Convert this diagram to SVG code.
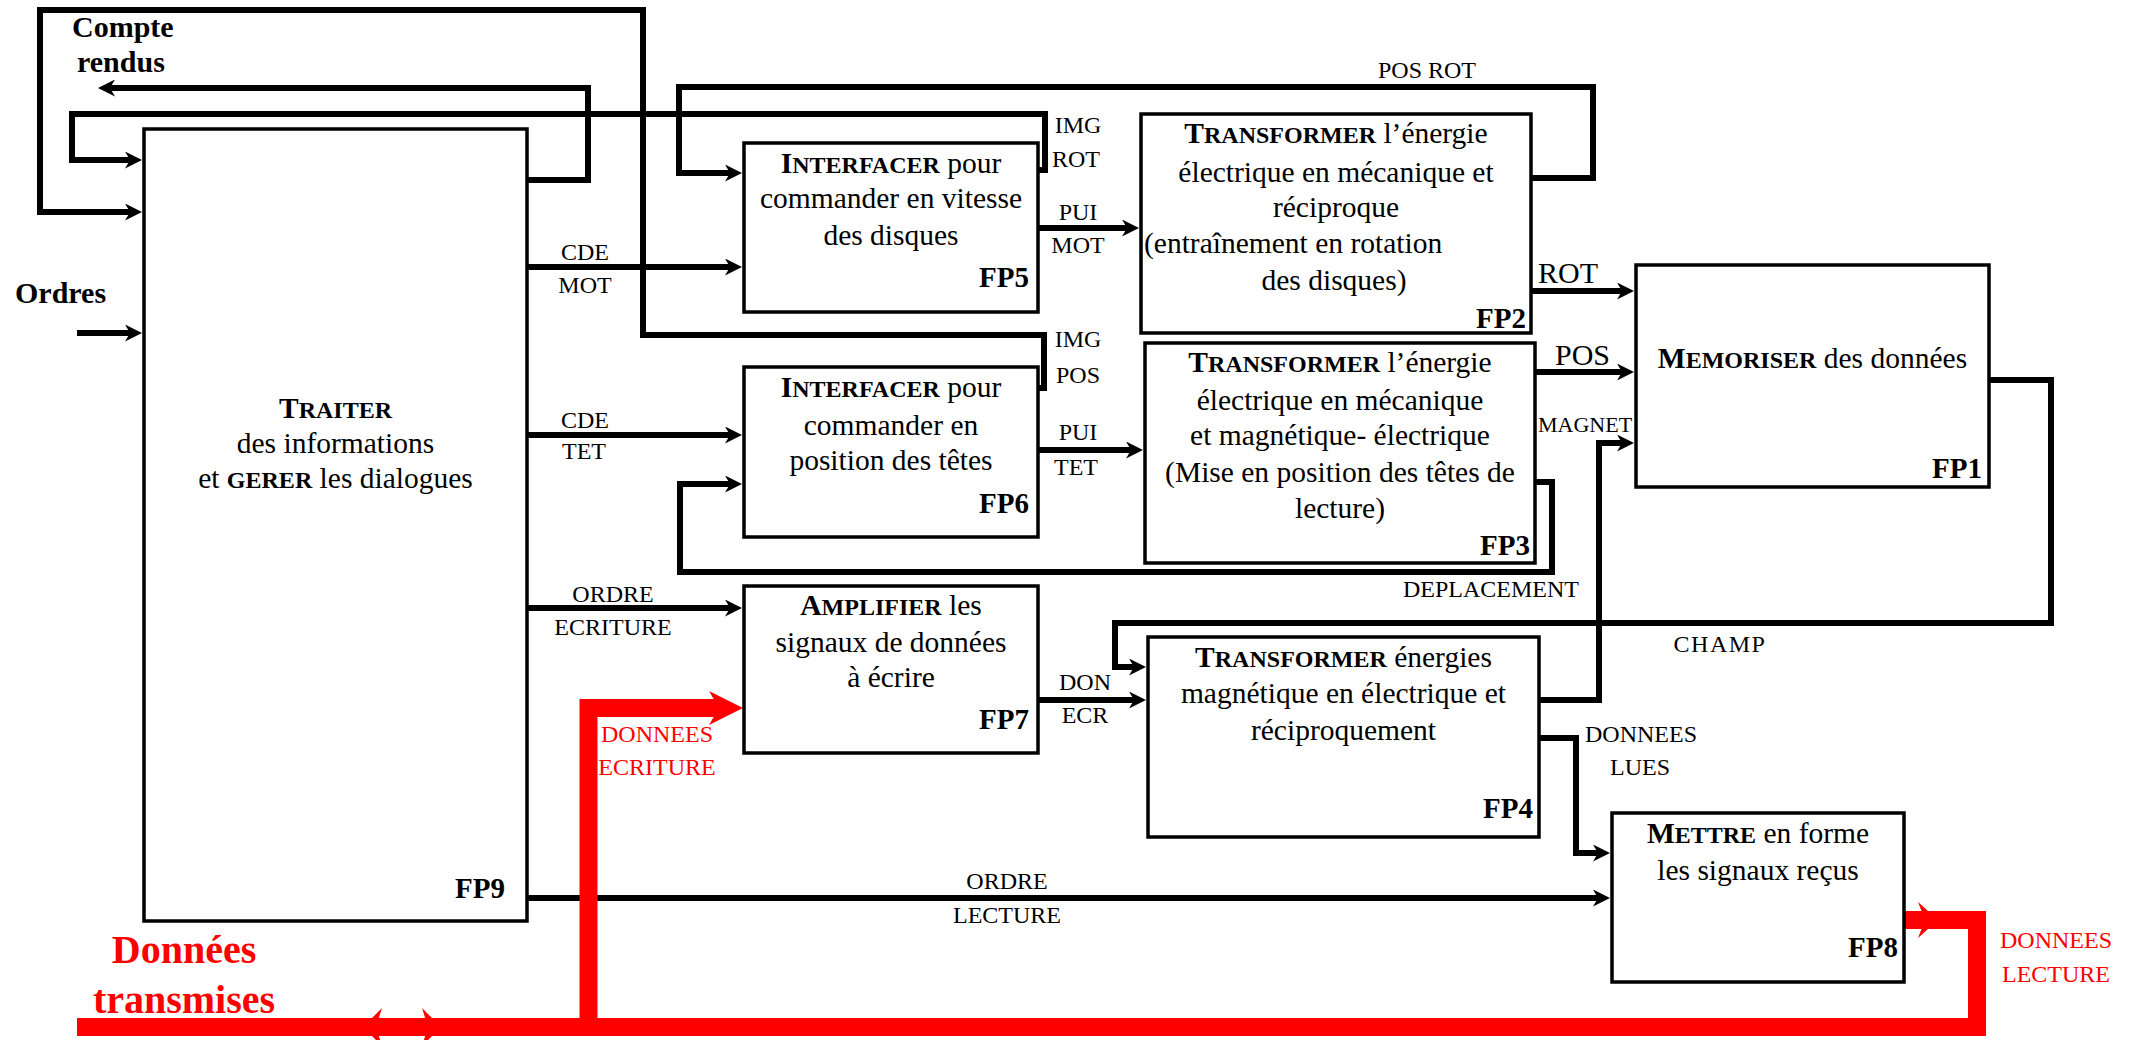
<svg xmlns="http://www.w3.org/2000/svg" width="2129" height="1040" viewBox="0 0 2129 1040">
<style>
.box{fill:#fff;stroke:#000;stroke-width:3.5}
.w{fill:none;stroke:#000;stroke-width:6;stroke-linejoin:miter}
.r{fill:none;stroke:#f00;stroke-width:18;stroke-linejoin:miter}
text{font-family:"Liberation Serif","Times New Roman",serif;fill:#000}
.n{font-size:29.5px;text-anchor:middle}
.ns{font-size:29.5px;text-anchor:start}
.sc{font-weight:bold;font-size:24px}
.b{font-weight:bold}
.fp{font-weight:bold;font-size:29px;text-anchor:end}
.l{font-size:24px;text-anchor:middle}
.red{fill:#f00}
.big{font-weight:bold;font-size:30px}
.huge{font-weight:bold;font-size:40px;text-anchor:middle;fill:#f00}
</style>
<defs>
<marker id="ah" markerUnits="userSpaceOnUse" markerWidth="17" markerHeight="17" viewBox="0 0 17 17" refX="5" refY="8.5" orient="auto"><path d="M0,0 L17,8.5 L0,17 L5,8.5 Z" fill="#000"/></marker>
<marker id="rah" markerUnits="userSpaceOnUse" markerWidth="34" markerHeight="34" viewBox="0 0 34 34" refX="10" refY="17" orient="auto"><path d="M0,0 L34,17 L0,34 L10,17 Z" fill="#f00"/></marker>
</defs>

<g id="connectors">
<path class="w" d="M77,333 H130" marker-end="url(#ah)"/>
<path class="w" d="M527,180 H588 V88 H110" marker-end="url(#ah)"/>
<path class="w" d="M1038,170 H1045 V114 H72 V160 H130" marker-end="url(#ah)"/>
<path class="w" d="M1038,388 H1044 V335 H643 V10 H40 V212 H130" marker-end="url(#ah)"/>
<path class="w" d="M527,267 H730" marker-end="url(#ah)"/>
<path class="w" d="M1531,178 H1593 V87 H679 V173 H730" marker-end="url(#ah)"/>
<path class="w" d="M1038,228 H1127" marker-end="url(#ah)"/>
<path class="w" d="M1531,291 H1622" marker-end="url(#ah)"/>
<path class="w" d="M527,435 H730" marker-end="url(#ah)"/>
<path class="w" d="M1038,450 H1131" marker-end="url(#ah)"/>
<path class="w" d="M1535,372 H1622" marker-end="url(#ah)"/>
<path class="w" d="M1535,482 H1552 V572 H680 V484 H730" marker-end="url(#ah)"/>
<path class="w" d="M527,608 H730" marker-end="url(#ah)"/>
<path class="w" d="M1539,700 H1599 V443 H1622" marker-end="url(#ah)"/>
<path class="w" d="M1989,380 H2051 V623 H1115 V667 H1134" marker-end="url(#ah)"/>
<path class="w" d="M1038,700 H1134" marker-end="url(#ah)"/>
<path class="w" d="M1539,738 H1576 V853 H1598" marker-end="url(#ah)"/>
<path class="w" d="M527,898 H1598" marker-end="url(#ah)"/>
<path class="r" d="M1904,920 H1977 V1027 H77"/>
<path fill="#f00" d="M1938,920 L1918,902 L1925,920 L1918,938 Z"/>
<path class="r" d="M588.5,1027 V708 H719" marker-end="url(#rah)"/>
<path fill="#f00" d="M363,1027 L382,1008 L376,1027 L382,1046 Z"/>
<path fill="#f00" d="M441,1027 L422,1008 L428,1027 L422,1046 Z"/>
</g>

<g id="labels">
<text class="big" x="72" y="37">Compte</text>
<text class="big" x="77" y="72">rendus</text>
<text class="big" x="15" y="303">Ordres</text>
<text class="l" x="585" y="260">CDE</text>
<text class="l" x="585" y="293">MOT</text>
<text class="l" x="585" y="428">CDE</text>
<text class="l" x="584" y="459">TET</text>
<text class="l" x="613" y="602">ORDRE</text>
<text class="l" x="613" y="635">ECRITURE</text>
<text class="l" x="1078" y="133">IMG</text>
<text class="l" x="1076" y="167">ROT</text>
<text class="l" x="1078" y="220">PUI</text>
<text class="l" x="1078" y="253">MOT</text>
<text class="l" x="1078" y="347">IMG</text>
<text class="l" x="1078" y="383">POS</text>
<text class="l" x="1078" y="440">PUI</text>
<text class="l" x="1076" y="475">TET</text>
<text class="l" x="1085" y="690">DON</text>
<text class="l" x="1085" y="723">ECR</text>
<text class="l" x="1427" y="78">POS ROT</text>
<text class="l" x="1491" y="597">DEPLACEMENT</text>
<text class="l" x="1720" y="652" letter-spacing="1.5">CHAMP</text>
<text class="l" x="1641" y="742">DONNEES</text>
<text class="l" x="1640" y="775">LUES</text>
<text class="l" x="1007" y="889">ORDRE</text>
<text class="l" x="1007" y="923">LECTURE</text>
<text x="1538" y="432" font-size="22">MAGNET</text>
<text x="1538" y="283" font-size="30">ROT</text>
<text x="1555" y="365" font-size="30">POS</text>
<text class="l red" x="657" y="742">DONNEES</text>
<text class="l red" x="657" y="775">ECRITURE</text>
<text class="l red" x="2056" y="948">DONNEES</text>
<text class="l red" x="2056" y="982">LECTURE</text>
<text class="huge" x="184" y="963">Données</text>
<text class="huge" x="184" y="1013">transmises</text>
</g>

<g id="FP9">
<rect class="box" x="144" y="129" width="383" height="792"/>
<text class="n" x="335.5" y="418"><tspan class="b">T</tspan><tspan class="sc">RAITER</tspan></text>
<text class="n" x="335.5" y="453">des informations</text>
<text class="n" x="335.5" y="488">et <tspan class="sc">GERER</tspan> les dialogues</text>
<text class="fp" x="505" y="898">FP9</text>
</g>

<g id="FP5">
<rect class="box" x="744" y="143" width="294" height="169"/>
<text class="n" x="891" y="173"><tspan class="b">I</tspan><tspan class="sc">NTERFACER</tspan> pour</text>
<text class="n" x="891" y="208">commander en vitesse</text>
<text class="n" x="891" y="245">des disques</text>
<text class="fp" x="1029" y="287">FP5</text>
</g>

<g id="FP6">
<rect class="box" x="744" y="367" width="294" height="170"/>
<text class="n" x="891" y="397"><tspan class="b">I</tspan><tspan class="sc">NTERFACER</tspan> pour</text>
<text class="n" x="891" y="435">commander en</text>
<text class="n" x="891" y="470">position des têtes</text>
<text class="fp" x="1029" y="513">FP6</text>
</g>

<g id="FP7">
<rect class="box" x="744" y="586" width="294" height="167"/>
<text class="n" x="891" y="615"><tspan class="b">A</tspan><tspan class="sc">MPLIFIER</tspan> les</text>
<text class="n" x="891" y="652">signaux de données</text>
<text class="n" x="891" y="687">à écrire</text>
<text class="fp" x="1029" y="729">FP7</text>
</g>

<g id="FP2">
<rect class="box" x="1141" y="114" width="390" height="219"/>
<text class="n" x="1336" y="143"><tspan class="b">T</tspan><tspan class="sc">RANSFORMER</tspan> l’énergie</text>
<text class="n" x="1336" y="182">électrique en mécanique et</text>
<text class="n" x="1336" y="217">réciproque</text>
<text class="ns" x="1144" y="253">(entraînement en rotation</text>
<text class="n" x="1334" y="290">des disques)</text>
<text class="fp" x="1526" y="328">FP2</text>
</g>

<g id="FP3">
<rect class="box" x="1145" y="343" width="390" height="220"/>
<text class="n" x="1340" y="372"><tspan class="b">T</tspan><tspan class="sc">RANSFORMER</tspan> l’énergie</text>
<text class="n" x="1340" y="410">électrique en mécanique</text>
<text class="n" x="1340" y="445">et magnétique- électrique</text>
<text class="n" x="1340" y="482">(Mise en position des têtes de</text>
<text class="n" x="1340" y="518">lecture)</text>
<text class="fp" x="1530" y="555">FP3</text>
</g>

<g id="FP4">
<rect class="box" x="1148" y="637" width="391" height="200"/>
<text class="n" x="1343.5" y="667"><tspan class="b">T</tspan><tspan class="sc">RANSFORMER</tspan> énergies</text>
<text class="n" x="1343.5" y="703">magnétique en électrique et</text>
<text class="n" x="1343.5" y="740">réciproquement</text>
<text class="fp" x="1533" y="818">FP4</text>
</g>

<g id="FP1">
<rect class="box" x="1636" y="265" width="353" height="222"/>
<text class="n" x="1812.5" y="368"><tspan class="b">M</tspan><tspan class="sc">EMORISER</tspan> des données</text>
<text class="fp" x="1982" y="478">FP1</text>
</g>

<g id="FP8">
<rect class="box" x="1612" y="813" width="292" height="169"/>
<text class="n" x="1758" y="843"><tspan class="b">M</tspan><tspan class="sc">ETTRE</tspan> en forme</text>
<text class="n" x="1758" y="880">les signaux reçus</text>
<text class="fp" x="1898" y="957">FP8</text>
</g>
</svg>
